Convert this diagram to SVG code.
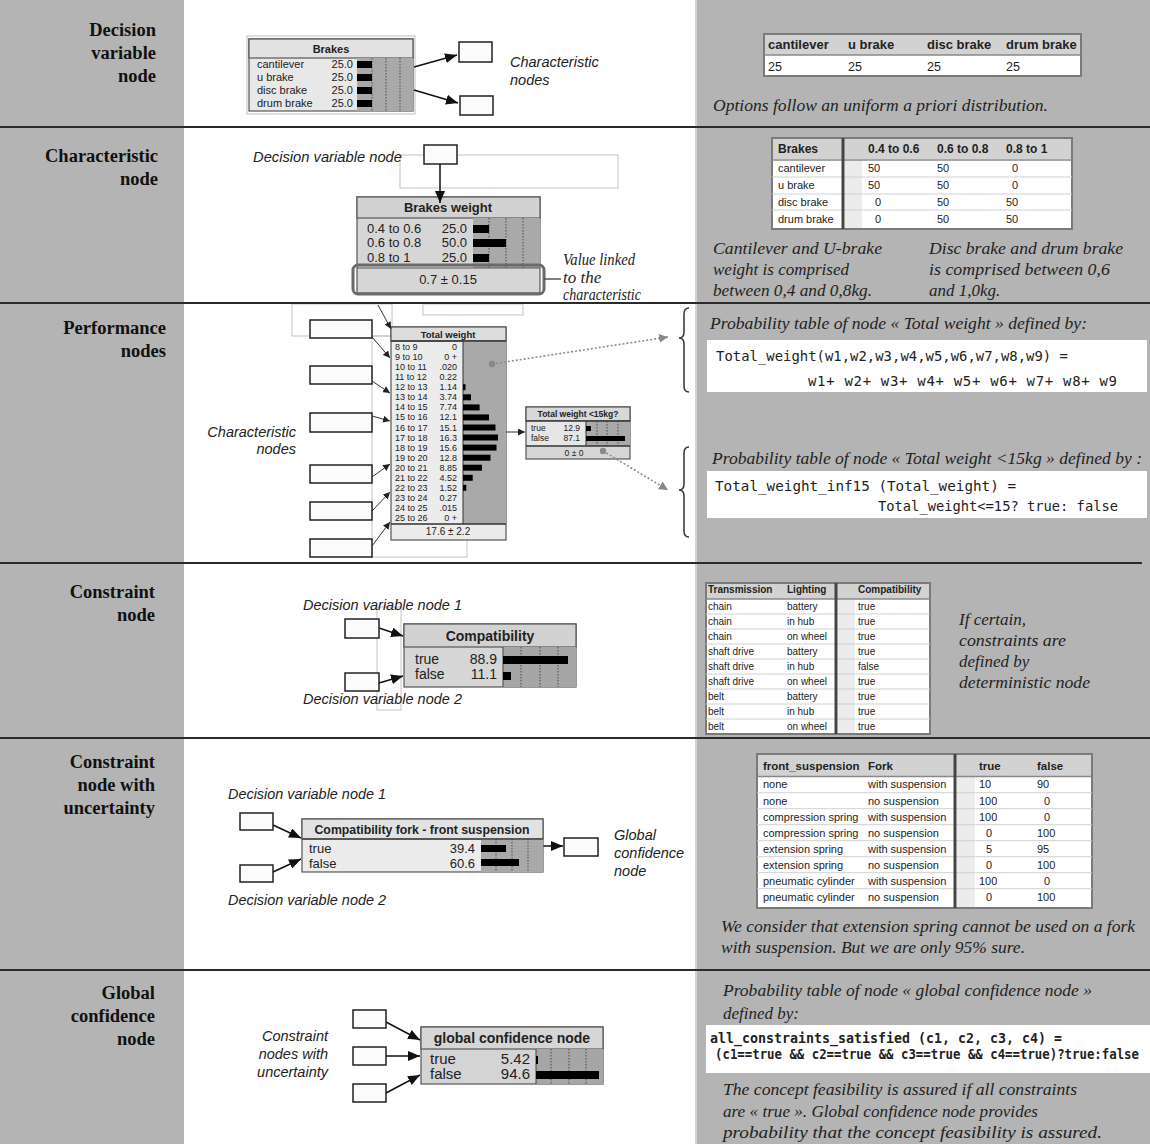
<svg xmlns="http://www.w3.org/2000/svg" width="1150" height="1144" viewBox="0 0 1150 1144">
<defs>
<style>
.bg{fill:#b4b4b4}
.lbl{font-family:"Liberation Serif","Times New Roman",serif;font-weight:bold;font-size:18.5px;fill:#111;text-anchor:end}
.it{font-family:"Liberation Serif","Times New Roman",serif;font-style:italic;font-size:17px;fill:#222}
.its{font-family:"Liberation Sans",Arial,sans-serif;font-style:italic;font-size:14.5px;fill:#222}
.s{font-family:"Liberation Sans",Arial,sans-serif;fill:#222}
.b{font-weight:bold}
.mid{text-anchor:middle}
.end{text-anchor:end}
.mono{font-family:"DejaVu Sans Mono","Liberation Mono",monospace;font-size:14px;fill:#222}
.box{fill:#fbfbfb;stroke:#222;stroke-width:1.5}
.ghost{fill:none;stroke:#c4c4c4;stroke-width:1}
.nb{stroke:#555;stroke-width:1.2}
.barea{fill:#a9a9a9}
.dot{stroke:#333;stroke-width:0.8;stroke-dasharray:1.5 1.5}
.sep{stroke:#2a2a2a;stroke-width:2}
.conn{stroke:#111;stroke-width:1.5;fill:none}
.thin{stroke:#333;stroke-width:1;fill:none}
.gdot{stroke:#8a8a8a;stroke-width:1.6;stroke-dasharray:2 2;fill:none}
.tbo{fill:#fff;stroke:#7a7a7a;stroke-width:2}
.th{fill:#d2d2d2}
.rl{stroke:#d0d0d0;stroke-width:1}
.strip{fill:#ececec}
.brace{fill:none;stroke:#333;stroke-width:1.5}
</style>
<marker id="ah" markerUnits="userSpaceOnUse" markerWidth="13" markerHeight="10" refX="12" refY="5" orient="auto"><path d="M0,0 L12,5 L0,10 z" fill="#111"/></marker>
<marker id="ahs" markerUnits="userSpaceOnUse" markerWidth="8" markerHeight="7" refX="7" refY="3.5" orient="auto"><path d="M0,0 L7,3.5 L0,7 z" fill="#222"/></marker>
<marker id="ahg" markerUnits="userSpaceOnUse" markerWidth="10" markerHeight="9" refX="9" refY="4.5" orient="auto"><path d="M0,0 L9,4.5 L0,9 z" fill="#888"/></marker>
</defs>

<!-- backgrounds -->
<rect x="0" y="0" width="184" height="1144" class="bg"/>
<rect x="184" y="0" width="513" height="1144" fill="#fff"/>
<rect x="697" y="0" width="453" height="1144" class="bg"/>
<line x1="696" y1="0" x2="696" y2="1144" stroke="#a8a8a8" stroke-width="1"/>

<!-- left labels -->
<g id="labels">
<text class="lbl" x="156" y="36">Decision</text>
<text class="lbl" x="156" y="59">variable</text>
<text class="lbl" x="156" y="82">node</text>
<text class="lbl" x="158" y="162">Characteristic</text>
<text class="lbl" x="158" y="185">node</text>
<text class="lbl" x="166" y="334">Performance</text>
<text class="lbl" x="166" y="357">nodes</text>
<text class="lbl" x="155" y="598">Constraint</text>
<text class="lbl" x="155" y="621">node</text>
<text class="lbl" x="155" y="768">Constraint</text>
<text class="lbl" x="155" y="791">node with</text>
<text class="lbl" x="155" y="814">uncertainty</text>
<text class="lbl" x="155" y="999">Global</text>
<text class="lbl" x="155" y="1022">confidence</text>
<text class="lbl" x="155" y="1045">node</text>
</g>

<!-- ghost outlines -->
<g id="ghosts">
<rect x="400" y="155" width="218" height="33" class="ghost"/>
<rect x="292" y="304" width="100" height="32" class="ghost"/>
<rect x="423" y="304" width="100" height="11" class="ghost"/>
<rect x="372" y="336" width="95" height="221" class="ghost"/>
<rect x="377" y="607" width="24" height="103" class="ghost"/>
</g>

<!-- ===== Row 1 ===== -->
<g id="brakes">
<rect x="247" y="36" width="168" height="78" fill="none" stroke="#c0c0c0"/>
<rect x="249" y="39" width="164" height="72" fill="#e8e8e8" class="nb"/>
<rect x="249" y="39" width="164" height="19" fill="#e2e2e2" class="nb"/>
<rect x="357" y="58" width="56" height="53" class="barea"/>
<line x1="372" y1="58" x2="372" y2="111" class="dot"/>
<line x1="386" y1="58" x2="386" y2="111" class="dot"/>
<line x1="400" y1="58" x2="400" y2="111" class="dot"/>
<rect x="357" y="61" width="15" height="7" fill="#000"/>
<rect x="357" y="74" width="15" height="7" fill="#000"/>
<rect x="357" y="87" width="15" height="7" fill="#000"/>
<rect x="357" y="100" width="15" height="7" fill="#000"/>
<text class="s b mid" x="331" y="53" font-size="11">Brakes</text>
<g class="s" font-size="11">
<text x="257" y="68">cantilever</text><text class="end" x="353" y="68">25.0</text>
<text x="257" y="81">u brake</text><text class="end" x="353" y="81">25.0</text>
<text x="257" y="94">disc brake</text><text class="end" x="353" y="94">25.0</text>
<text x="257" y="107">drum brake</text><text class="end" x="353" y="107">25.0</text>
</g>
</g>
<g id="char1"><rect x="459" y="42" width="33" height="20" class="box"/></g>
<g id="char2"><rect x="460" y="96" width="33" height="19" class="box"/></g>
<text class="its" x="510" y="67">Characteristic</text>
<text class="its" x="510" y="85">nodes</text>

<g id="table1">
<rect x="764" y="34" width="317" height="42" class="tbo"/>
<rect x="765" y="35" width="315" height="20" class="th"/>
<line x1="764" y1="55" x2="1081" y2="55" stroke="#888" stroke-width="1.5"/>
<g class="s b" font-size="13">
<text x="768" y="49">cantilever</text><text x="848" y="49">u brake</text><text x="927" y="49">disc brake</text><text x="1006" y="49">drum brake</text>
</g>
<g class="s" font-size="12.5">
<text x="768" y="71">25</text><text x="848" y="71">25</text><text x="927" y="71">25</text><text x="1006" y="71">25</text>
</g>
</g>
<text class="it" x="713" y="111" textLength="335" lengthAdjust="spacingAndGlyphs">Options follow an uniform a priori distribution.</text>

<!-- ===== Row 2 ===== -->
<text class="its" x="253" y="162" textLength="149" lengthAdjust="spacingAndGlyphs">Decision variable node</text>
<g id="dv2"><rect x="424" y="145" width="33" height="19" class="box"/></g>
<g id="brakesweight">
<rect x="357" y="197" width="183" height="96" fill="#d6d6d6" class="nb"/>
<rect x="357" y="197" width="183" height="21" fill="#d2d2d2" class="nb"/>
<rect x="473" y="218" width="67" height="50" class="barea"/>
<line x1="489" y1="218" x2="489" y2="268" class="dot"/>
<line x1="506" y1="218" x2="506" y2="268" class="dot"/>
<line x1="523" y1="218" x2="523" y2="268" class="dot"/>
<rect x="473" y="225" width="16" height="8" fill="#000"/>
<rect x="473" y="239" width="33" height="8" fill="#000"/>
<rect x="473" y="254" width="16" height="8" fill="#000"/>
<line x1="357" y1="268" x2="540" y2="268" stroke="#555" stroke-width="1.2"/>
<text class="s b mid" x="448" y="212" font-size="13">Brakes weight</text>
<g class="s" font-size="13">
<text x="367" y="233">0.4 to 0.6</text><text class="end" x="467" y="233">25.0</text>
<text x="367" y="247">0.6 to 0.8</text><text class="end" x="467" y="247">50.0</text>
<text x="367" y="262">0.8 to 1</text><text class="end" x="467" y="262">25.0</text>
<text class="mid" x="448" y="284">0.7 ± 0.15</text>
</g>
<rect x="353" y="265" width="191" height="29" rx="5" fill="none" stroke="#6a6a6a" stroke-width="3"/>
</g>
<line x1="544" y1="279" x2="561" y2="279" stroke="#555" stroke-width="1.5"/>
<text class="it" x="563" y="265" font-size="14" fill="#444" textLength="72" lengthAdjust="spacingAndGlyphs">Value linked</text>
<text class="it" x="563" y="283" font-size="14" fill="#444">to the</text>
<text class="it" x="563" y="300" font-size="14" fill="#444" textLength="78" lengthAdjust="spacingAndGlyphs">characteristic</text>

<g id="table2">
<rect x="772" y="138" width="300" height="91" class="tbo"/>
<rect x="773" y="139" width="298" height="20" class="th"/>
<rect x="845" y="160" width="17" height="68" class="strip"/>
<line x1="772" y1="177" x2="1072" y2="177" class="rl"/>
<line x1="772" y1="194" x2="1072" y2="194" class="rl"/>
<line x1="772" y1="210" x2="1072" y2="210" class="rl"/>
<line x1="772" y1="160" x2="1072" y2="160" stroke="#888" stroke-width="1.5"/>
<line x1="843" y1="138" x2="843" y2="229" stroke="#444" stroke-width="3"/>
<g class="s b" font-size="12">
<text x="778" y="153">Brakes</text><text x="868" y="153">0.4 to 0.6</text><text x="937" y="153">0.6 to 0.8</text><text x="1006" y="153">0.8 to 1</text>
</g>
<g class="s" font-size="11" fill="#333">
<text x="778" y="172">cantilever</text><text x="868" y="172">50</text><text x="937" y="172">50</text><text x="1012" y="172">0</text>
<text x="778" y="189">u brake</text><text x="868" y="189">50</text><text x="937" y="189">50</text><text x="1012" y="189">0</text>
<text x="778" y="206">disc brake</text><text x="875" y="206">0</text><text x="937" y="206">50</text><text x="1006" y="206">50</text>
<text x="778" y="223">drum brake</text><text x="875" y="223">0</text><text x="937" y="223">50</text><text x="1006" y="223">50</text>
</g>
</g>
<text class="it" x="713" y="254" textLength="169" lengthAdjust="spacingAndGlyphs">Cantilever and U-brake</text>
<text class="it" x="713" y="275">weight is comprised</text>
<text class="it" x="713" y="296" textLength="159" lengthAdjust="spacingAndGlyphs">between 0,4 and 0,8kg.</text>
<text class="it" x="929" y="254" textLength="194" lengthAdjust="spacingAndGlyphs">Disc brake and drum brake</text>
<text class="it" x="929" y="275" textLength="181" lengthAdjust="spacingAndGlyphs">is comprised between 0,6</text>
<text class="it" x="929" y="296">and 1,0kg.</text>

<!-- ===== Row 3 ===== -->
<g id="c1"><rect x="310" y="320" width="62" height="18" class="box" stroke-width="1.2"/></g>
<g id="c2"><rect x="310" y="366" width="62" height="18" class="box" stroke-width="1.2"/></g>
<g id="c3"><rect x="310" y="413" width="62" height="19" class="box" stroke-width="1.2"/></g>
<g id="c4"><rect x="310" y="465" width="62" height="18" class="box" stroke-width="1.2"/></g>
<g id="c5"><rect x="310" y="502" width="62" height="18" class="box" stroke-width="1.2"/></g>
<g id="c6"><rect x="310" y="539" width="62" height="18" class="box" stroke-width="1.2"/></g>
<text class="its end" x="296" y="437">Characteristic</text>
<text class="its end" x="296" y="454">nodes</text>

<g id="totalweight">
<rect x="391" y="327" width="115" height="213" fill="#ececec" class="nb"/>
<rect x="391" y="327" width="115" height="14" fill="#dcdcdc" class="nb"/>
<rect x="463" y="341" width="43" height="183" class="barea"/>
<line x1="391" y1="341" x2="506" y2="341" stroke="#333" stroke-width="1.5"/>
<line x1="391" y1="524" x2="506" y2="524" stroke="#333" stroke-width="1.5"/>
<line x1="463" y1="341" x2="463" y2="524" stroke="#333" stroke-width="1"/>
<text class="s b mid" x="448" y="338" font-size="9.5">Total weight</text>
<g fill="#000">
<rect x="463" y="384.2" width="2.5" height="6"/>
<rect x="463" y="394.3" width="8" height="6"/>
<rect x="463" y="404.4" width="16.6" height="6"/>
<rect x="463" y="414.4" width="26" height="6"/>
<rect x="463" y="424.5" width="32.5" height="6"/>
<rect x="463" y="434.5" width="35" height="6"/>
<rect x="463" y="444.6" width="33.5" height="6"/>
<rect x="463" y="454.7" width="27.5" height="6"/>
<rect x="463" y="464.7" width="19" height="6"/>
<rect x="463" y="474.8" width="9.7" height="6"/>
<rect x="463" y="484.8" width="3.3" height="6"/>
</g>
<g class="s" font-size="9" fill="#333">
<text x="395" y="350">8 to 9</text><text class="end" x="457" y="350">0</text>
<text x="395" y="360.1">9 to 10</text><text class="end" x="457" y="360.1">0 +</text>
<text x="395" y="370.1">10 to 11</text><text class="end" x="457" y="370.1">.020</text>
<text x="395" y="380.2">11 to 12</text><text class="end" x="457" y="380.2">0.22</text>
<text x="395" y="390.2">12 to 13</text><text class="end" x="457" y="390.2">1.14</text>
<text x="395" y="400.3">13 to 14</text><text class="end" x="457" y="400.3">3.74</text>
<text x="395" y="410.4">14 to 15</text><text class="end" x="457" y="410.4">7.74</text>
<text x="395" y="420.4">15 to 16</text><text class="end" x="457" y="420.4">12.1</text>
<text x="395" y="430.5">16 to 17</text><text class="end" x="457" y="430.5">15.1</text>
<text x="395" y="440.5">17 to 18</text><text class="end" x="457" y="440.5">16.3</text>
<text x="395" y="450.6">18 to 19</text><text class="end" x="457" y="450.6">15.6</text>
<text x="395" y="460.7">19 to 20</text><text class="end" x="457" y="460.7">12.8</text>
<text x="395" y="470.7">20 to 21</text><text class="end" x="457" y="470.7">8.85</text>
<text x="395" y="480.8">21 to 22</text><text class="end" x="457" y="480.8">4.52</text>
<text x="395" y="490.8">22 to 23</text><text class="end" x="457" y="490.8">1.52</text>
<text x="395" y="500.9">23 to 24</text><text class="end" x="457" y="500.9">0.27</text>
<text x="395" y="511">24 to 25</text><text class="end" x="457" y="511">.015</text>
<text x="395" y="521">25 to 26</text><text class="end" x="457" y="521">0 +</text>
<text class="mid" x="448" y="535" font-size="10">17.6 ± 2.2</text>
</g>
</g>

<g id="tw15">
<rect x="526" y="407" width="104" height="52" fill="#d6d6d6" class="nb"/>
<rect x="526" y="407" width="104" height="14" fill="#d8d8d8" class="nb"/>
<rect x="527" y="421" width="59" height="25" fill="#e6e6e6"/>
<rect x="586" y="421" width="44" height="25" class="barea"/>
<line x1="526" y1="421" x2="630" y2="421" stroke="#333" stroke-width="1.5"/>
<line x1="526" y1="446" x2="630" y2="446" stroke="#333" stroke-width="1.5"/>
<line x1="586" y1="421" x2="586" y2="446" stroke="#333" stroke-width="1"/>
<line x1="597" y1="421" x2="597" y2="446" class="dot"/>
<line x1="607" y1="421" x2="607" y2="446" class="dot"/>
<line x1="618" y1="421" x2="618" y2="446" class="dot"/>
<rect x="586" y="426" width="5" height="5" fill="#000"/>
<rect x="586" y="436" width="39" height="5" fill="#000"/>
<text class="s b mid" x="578" y="417" font-size="8.5">Total weight &lt;15kg?</text>
<g class="s" font-size="8.5" fill="#333">
<text x="531" y="431">true</text><text class="end" x="580" y="431">12.9</text>
<text x="531" y="441">false</text><text class="end" x="580" y="441">87.1</text>
<text class="mid" x="574" y="456">0 ± 0</text>
</g>
</g>

<g id="connectors">
<line x1="414" y1="67" x2="457" y2="55" class="conn" marker-end="url(#ah)"/>
<line x1="414" y1="90" x2="458" y2="103" class="conn" marker-end="url(#ah)"/>
<line x1="440" y1="164" x2="440" y2="203" class="conn" marker-end="url(#ah)"/>
<line x1="378" y1="305" x2="391" y2="329" class="thin" marker-end="url(#ahs)"/>
<line x1="372" y1="337" x2="390" y2="358" class="thin" marker-end="url(#ahs)"/>
<line x1="372" y1="381" x2="390" y2="393" class="thin" marker-end="url(#ahs)"/>
<line x1="372" y1="416" x2="390" y2="421" class="thin" marker-end="url(#ahs)"/>
<line x1="372" y1="477" x2="390" y2="464" class="thin" marker-end="url(#ahs)"/>
<line x1="372" y1="511" x2="390" y2="492" class="thin" marker-end="url(#ahs)"/>
<line x1="372" y1="546" x2="390" y2="522" class="thin" marker-end="url(#ahs)"/>
<line x1="506" y1="432" x2="525" y2="432" class="thin" marker-end="url(#ahs)"/>
<circle cx="492" cy="364" r="3.2" fill="#888"/>
<line x1="492" y1="364" x2="668" y2="337" class="gdot" marker-end="url(#ahg)"/>
<circle cx="603" cy="451" r="3.2" fill="#888"/>
<line x1="603" y1="451" x2="668" y2="490" class="gdot" marker-end="url(#ahg)"/>
<line x1="379" y1="628" x2="403" y2="636" class="conn" stroke-width="1.2" marker-end="url(#ah)"/>
<line x1="379" y1="683" x2="403" y2="676" class="conn" stroke-width="1.2" marker-end="url(#ah)"/>
<line x1="273" y1="825" x2="301" y2="838" class="conn" marker-end="url(#ah)"/>
<line x1="273" y1="872" x2="301" y2="859" class="conn" marker-end="url(#ah)"/>
<line x1="543" y1="846" x2="563" y2="846" class="conn" marker-end="url(#ah)"/>
<line x1="386" y1="1022" x2="420" y2="1040" class="conn" marker-end="url(#ah)"/>
<line x1="386" y1="1056" x2="420" y2="1056" class="conn" marker-end="url(#ah)"/>
<line x1="386" y1="1093" x2="420" y2="1075" class="conn" marker-end="url(#ah)"/>
</g>

<!-- row 3 right -->
<path class="brace" d="M689,308 Q684,308 684,314 L684,332 Q684,338 679,338 Q684,338 684,344 L684,386 Q684,392 689,392"/>
<path class="brace" d="M689,447 Q684,447 684,453 L684,484 Q684,490 679,490 Q684,490 684,496 L684,531 Q684,537 689,537"/>
<text class="it" x="710" y="329" textLength="377" lengthAdjust="spacingAndGlyphs">Probability table of node « Total weight » defined by:</text>
<rect x="707" y="340" width="440" height="52" fill="#fff"/>
<text class="mono" x="716" y="361" textLength="352" lengthAdjust="spacingAndGlyphs">Total_weight(w1,w2,w3,w4,w5,w6,w7,w8,w9) =</text>
<text class="mono" x="808" y="386" textLength="309" lengthAdjust="spacing">w1+ w2+ w3+ w4+ w5+ w6+ w7+ w8+ w9</text>
<text class="it" x="712" y="464" textLength="430" lengthAdjust="spacingAndGlyphs">Probability table of node « Total weight &lt;15kg » defined by :</text>
<rect x="707" y="471" width="440" height="47" fill="#fff"/>
<text class="mono" x="715" y="491" textLength="301" lengthAdjust="spacingAndGlyphs">Total_weight_inf15 (Total_weight) =</text>
<text class="mono" x="878" y="511" textLength="240" lengthAdjust="spacingAndGlyphs">Total_weight&lt;=15? true: false</text>

<!-- ===== Row 4 ===== -->
<text class="its" x="303" y="610" textLength="159" lengthAdjust="spacingAndGlyphs">Decision variable node 1</text>
<text class="its" x="303" y="704" textLength="159" lengthAdjust="spacingAndGlyphs">Decision variable node 2</text>
<g id="dv41"><rect x="345" y="619" width="34" height="19" class="box"/></g>
<g id="dv42"><rect x="345" y="673" width="34" height="18" class="box"/></g>
<g id="compat">
<rect x="404" y="624" width="172" height="63" fill="#d6d6d6" class="nb" stroke-width="1.6"/>
<rect x="404" y="624" width="172" height="23" fill="#d2d2d2" class="nb" stroke-width="1.6"/>
<rect x="503" y="647" width="73" height="40" fill="#a6a6a6"/>
<line x1="503" y1="647" x2="503" y2="687" stroke="#444" stroke-width="1"/>
<line x1="521" y1="647" x2="521" y2="687" class="dot"/>
<line x1="540" y1="647" x2="540" y2="687" class="dot"/>
<line x1="558" y1="647" x2="558" y2="687" class="dot"/>
<rect x="503" y="656" width="65" height="8" fill="#000"/>
<rect x="503" y="672" width="8" height="8" fill="#000"/>
<text class="s b mid" x="490" y="641" font-size="14">Compatibility</text>
<g class="s" font-size="14">
<text x="415" y="664">true</text><text class="end" x="497" y="664">88.9</text>
<text x="415" y="679">false</text><text class="end" x="497" y="679">11.1</text>
</g>
</g>

<g id="table4">
<rect x="706" y="583" width="224" height="151" class="tbo"/>
<rect x="707" y="584" width="222" height="15" class="th"/>
<rect x="838" y="600" width="17" height="133" class="strip"/>
<g class="rl">
<line x1="706" y1="614" x2="930" y2="614"/><line x1="706" y1="629" x2="930" y2="629"/>
<line x1="706" y1="644" x2="930" y2="644"/><line x1="706" y1="659" x2="930" y2="659"/>
<line x1="706" y1="674" x2="930" y2="674"/><line x1="706" y1="689" x2="930" y2="689"/>
<line x1="706" y1="704" x2="930" y2="704"/><line x1="706" y1="719" x2="930" y2="719"/>
</g>
<line x1="706" y1="599" x2="930" y2="599" stroke="#888" stroke-width="1.5"/>
<line x1="836" y1="583" x2="836" y2="734" stroke="#444" stroke-width="3"/>
<g class="s b" font-size="10">
<text x="708" y="593">Transmission</text><text x="787" y="593">Lighting</text><text x="858" y="593">Compatibility</text>
</g>
<g class="s" font-size="10" fill="#333">
<text x="708" y="609.5">chain</text><text x="787" y="609.5">battery</text><text x="858" y="609.5">true</text>
<text x="708" y="624.5">chain</text><text x="787" y="624.5">in hub</text><text x="858" y="624.5">true</text>
<text x="708" y="639.5">chain</text><text x="787" y="639.5">on wheel</text><text x="858" y="639.5">true</text>
<text x="708" y="654.5">shaft drive</text><text x="787" y="654.5">battery</text><text x="858" y="654.5">true</text>
<text x="708" y="669.5">shaft drive</text><text x="787" y="669.5">in hub</text><text x="858" y="669.5">false</text>
<text x="708" y="684.5">shaft drive</text><text x="787" y="684.5">on wheel</text><text x="858" y="684.5">true</text>
<text x="708" y="699.5">belt</text><text x="787" y="699.5">battery</text><text x="858" y="699.5">true</text>
<text x="708" y="714.5">belt</text><text x="787" y="714.5">in hub</text><text x="858" y="714.5">true</text>
<text x="708" y="729.5">belt</text><text x="787" y="729.5">on wheel</text><text x="858" y="729.5">true</text>
</g>
</g>
<text class="it" x="959" y="625">If certain,</text>
<text class="it" x="959" y="646" textLength="107" lengthAdjust="spacingAndGlyphs">constraints are</text>
<text class="it" x="959" y="667">defined by</text>
<text class="it" x="959" y="688" textLength="131" lengthAdjust="spacingAndGlyphs">deterministic node</text>

<!-- ===== Row 5 ===== -->
<text class="its" x="228" y="799" textLength="158" lengthAdjust="spacingAndGlyphs">Decision variable node 1</text>
<text class="its" x="228" y="905" textLength="158" lengthAdjust="spacingAndGlyphs">Decision variable node 2</text>
<g id="dv51"><rect x="240" y="813" width="33" height="17" class="box"/></g>
<g id="dv52"><rect x="240" y="865" width="33" height="17" class="box"/></g>
<g id="compatfork">
<rect x="302" y="819" width="241" height="53" fill="#ececec" class="nb"/>
<rect x="302" y="819" width="241" height="20" fill="#e2e2e2" class="nb"/>
<rect x="481" y="839" width="62" height="33" class="barea"/>
<line x1="302" y1="839" x2="543" y2="839" stroke="#444" stroke-width="1.6"/>
<line x1="496" y1="839" x2="496" y2="872" class="dot"/>
<line x1="512" y1="839" x2="512" y2="872" class="dot"/>
<line x1="528" y1="839" x2="528" y2="872" class="dot"/>
<rect x="481" y="845" width="25" height="7" fill="#000"/>
<rect x="481" y="859" width="38" height="7" fill="#000"/>
<text class="s b mid" x="422" y="834" font-size="13" textLength="215" lengthAdjust="spacingAndGlyphs">Compatibility fork - front suspension</text>
<g class="s" font-size="13" fill="#333">
<text x="309" y="853">true</text><text class="end" x="475" y="853">39.4</text>
<text x="309" y="868">false</text><text class="end" x="475" y="868">60.6</text>
</g>
</g>
<g id="gcn5"><rect x="564" y="838" width="34" height="18" class="box"/></g>
<text class="its" x="614" y="840">Global</text>
<text class="its" x="614" y="858">confidence</text>
<text class="its" x="614" y="876">node</text>

<g id="table5">
<rect x="757" y="754" width="335" height="154" class="tbo"/>
<rect x="758" y="755" width="333" height="21" class="th"/>
<rect x="957" y="777" width="18" height="130" class="strip"/>
<g class="rl">
<line x1="757" y1="792.7" x2="1092" y2="792.7"/><line x1="757" y1="808.7" x2="1092" y2="808.7"/>
<line x1="757" y1="824.7" x2="1092" y2="824.7"/><line x1="757" y1="840.7" x2="1092" y2="840.7"/>
<line x1="757" y1="856.7" x2="1092" y2="856.7"/><line x1="757" y1="872.7" x2="1092" y2="872.7"/>
<line x1="757" y1="888.7" x2="1092" y2="888.7"/>
</g>
<line x1="757" y1="776.5" x2="1092" y2="776.5" stroke="#888" stroke-width="1.5"/>
<line x1="955" y1="754" x2="955" y2="908" stroke="#444" stroke-width="3"/>
<g class="s b" font-size="11.5">
<text x="763" y="770">front_suspension</text><text x="868" y="770">Fork</text><text x="979" y="770">true</text><text x="1037" y="770">false</text>
</g>
<g class="s" font-size="11" fill="#333">
<text x="763" y="788">none</text><text x="868" y="788">with suspension</text><text x="979" y="788">10</text><text x="1037" y="788">90</text>
<text x="763" y="804.5">none</text><text x="868" y="804.5">no suspension</text><text x="979" y="804.5">100</text><text x="1044" y="804.5">0</text>
<text x="763" y="820.5">compression spring</text><text x="868" y="820.5">with suspension</text><text x="979" y="820.5">100</text><text x="1044" y="820.5">0</text>
<text x="763" y="836.5">compression spring</text><text x="868" y="836.5">no suspension</text><text x="986" y="836.5">0</text><text x="1037" y="836.5">100</text>
<text x="763" y="852.5">extension spring</text><text x="868" y="852.5">with suspension</text><text x="986" y="852.5">5</text><text x="1037" y="852.5">95</text>
<text x="763" y="869">extension spring</text><text x="868" y="869">no suspension</text><text x="986" y="869">0</text><text x="1037" y="869">100</text>
<text x="763" y="885">pneumatic cylinder</text><text x="868" y="885">with suspension</text><text x="979" y="885">100</text><text x="1044" y="885">0</text>
<text x="763" y="901">pneumatic cylinder</text><text x="868" y="901">no suspension</text><text x="986" y="901">0</text><text x="1037" y="901">100</text>
</g>
</g>
<text class="it" x="721" y="932" textLength="414" lengthAdjust="spacingAndGlyphs">We consider that extension spring cannot be used on a fork</text>
<text class="it" x="721" y="953" textLength="304" lengthAdjust="spacingAndGlyphs">with suspension. But we are only 95% sure.</text>

<!-- ===== Row 6 ===== -->
<g id="cn61"><rect x="353" y="1010" width="33" height="18" class="box"/></g>
<g id="cn62"><rect x="353" y="1047" width="33" height="18" class="box"/></g>
<g id="cn63"><rect x="353" y="1084" width="33" height="18" class="box"/></g>
<text class="its end" x="328" y="1041">Constraint</text>
<text class="its end" x="328" y="1059">nodes with</text>
<text class="its end" x="328" y="1077">uncertainty</text>
<g id="globalnode">
<rect x="421" y="1027" width="182" height="57" fill="#d4d4d4" class="nb" stroke-width="1.6"/>
<rect x="421" y="1027" width="182" height="22" fill="#d6d6d6" class="nb" stroke-width="1.6"/>
<rect x="536" y="1049" width="67" height="35" fill="#a6a6a6"/>
<line x1="536" y1="1049" x2="536" y2="1084" stroke="#444" stroke-width="1"/>
<line x1="551" y1="1049" x2="551" y2="1084" class="dot"/>
<line x1="569" y1="1049" x2="569" y2="1084" class="dot"/>
<line x1="586" y1="1049" x2="586" y2="1084" class="dot"/>
<rect x="536" y="1056" width="2" height="8" fill="#000"/>
<rect x="536" y="1071" width="63" height="8" fill="#000"/>
<text class="s b mid" x="512" y="1043" font-size="14">global confidence node</text>
<g class="s" font-size="15">
<text x="430" y="1064">true</text><text class="end" x="530" y="1064">5.42</text>
<text x="430" y="1079">false</text><text class="end" x="530" y="1079">94.6</text>
</g>
</g>
<text class="it" x="723" y="996" textLength="369" lengthAdjust="spacingAndGlyphs">Probability table of node « global confidence node »</text>
<text class="it" x="723" y="1019">defined by:</text>
<rect x="706" y="1025" width="444" height="48" fill="#fff"/>
<text class="mono b" x="710" y="1043" font-size="13.3" textLength="352" lengthAdjust="spacingAndGlyphs">all_constraints_satisfied (c1, c2, c3, c4) =</text>
<text class="mono b" x="715" y="1059" font-size="12.5" textLength="424" lengthAdjust="spacingAndGlyphs">(c1==true &amp;&amp; c2==true &amp;&amp; c3==true &amp;&amp; c4==true)?true:false</text>
<text class="it" x="723" y="1095" textLength="354" lengthAdjust="spacingAndGlyphs">The concept feasibility is assured if all constraints</text>
<text class="it" x="723" y="1117" textLength="315" lengthAdjust="spacingAndGlyphs">are « true ». Global confidence node provides</text>
<text class="it" x="723" y="1138" textLength="379" lengthAdjust="spacingAndGlyphs">probability  that the concept feasibility is assured.</text>

<!-- separators -->
<g id="separators">
<line x1="0" y1="127" x2="1150" y2="127" class="sep"/>
<line x1="0" y1="303" x2="1150" y2="303" class="sep"/>
<line x1="0" y1="563" x2="1142" y2="563" class="sep"/>
<line x1="0" y1="738" x2="1150" y2="738" class="sep"/>
<line x1="0" y1="970" x2="1150" y2="970" class="sep"/>
</g>
</svg>
